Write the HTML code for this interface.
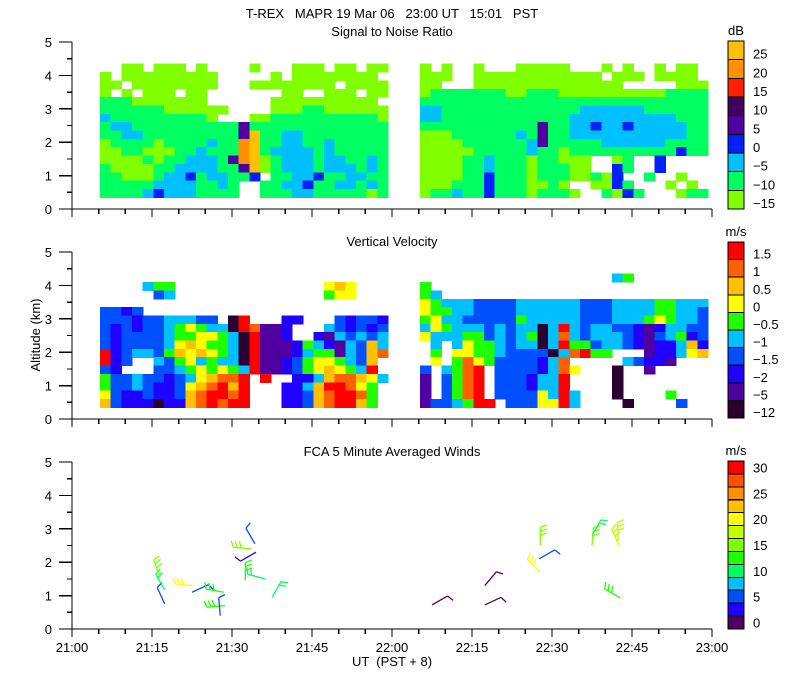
<!DOCTYPE html>
<html><head><meta charset="utf-8"><style>
html,body{margin:0;padding:0;background:#fff;width:800px;height:700px;overflow:hidden}
svg text{font-family:"Liberation Sans",sans-serif;font-size:13px;fill:#000}
</style></head><body>
<svg id="chart" width="800" height="700" viewBox="0 0 800 700" xmlns="http://www.w3.org/2000/svg" shape-rendering="crispEdges">
<text x="392" y="18" text-anchor="middle" font-size="14" xml:space="preserve">T-REX   MAPR 19 Mar 06   23:00 UT   15:01   PST</text>
<text x="392" y="36" text-anchor="middle" font-size="14">Signal to Noise Ratio</text>
<text x="392" y="246" text-anchor="middle" font-size="14">Vertical Velocity</text>
<text x="392" y="456" text-anchor="middle" font-size="14">FCA 5 Minute Averaged Winds</text>
<text x="392" y="666" text-anchor="middle" xml:space="preserve">UT  (PST + 8)</text>
<text x="0" y="0" transform="translate(40,335) rotate(-90)" text-anchor="middle" font-size="12">Altitude (km)</text>
<g id="layer"></g>
</svg>
<script>
// ---- data ----
var segStarts = [5.25, 65.25];   // minutes after 21:00
var colStep = 2;                  // minutes per column
var rowStep = 0.25;               // km per row
var rowBase = 0.35;               // km

var snrColors = ["#80ff00","#00ff60","#00c0ff","#0020ff","#5000a0","#400060","#ff2000","#ff9000","#ffc000"];
var snrLabels = ["-15","-10","-5","0","5","10","15","20","25"];
var velColors = ["#2a0030","#5000a0","#2000ff","#0050ff","#00c0ff","#20ff00","#ffff00","#ffc000","#ff6000","#ff0000"];
var velLabels = ["-12","-5","-2","-1.5","-1","-0.5","0","0.5","1","1.5"];
var windColors = ["#500060","#2000ff","#0050ff","#00c0ff","#00ff60","#20ff00","#80ff00","#c0ff00","#ffff00","#ffc000","#ff9000","#ff5000","#ff0000"];
var windLabels = ["0","5","10","15","20","25","30"];
var xTickLabels = ["21:00","21:15","21:30","21:45","22:00","22:15","22:30","22:45","23:00"];
var yTickLabels = ["0","1","2","3","4","5"];

// SNR rows, top (4.1-4.35 km) to bottom (0.35-0.6 km); left and right segments
var snrLeft = [
"..00.000.0....0...000.00.00",
"0.000000000.....0.00000000.",
"00.00000000...00000000.0000",
"0.0.000.00.......00..000.00",
"1110000000......0000000000.",
"111111000000....00011000000",
"21111111110...0011111111110",
"122111111111141111111111111",
"112211111111148112211111111",
"011110111121178112211211111",
"001100011211178122221211111",
"000010112221478012221221121",
"100001122221148012221222121",
"110001223122113.11223112211",
"1111122221121..112231122121",
"1111232221111..111221111101"];
var snrRight = [
"0.0..0...00000...0.0..0.00.",
"000..000000000000.000.0000",
"00...00000000000000.....000",
"011111110011100000000001111",
"111111111111111111111111111",
"221111111111111222222111111",
"221111111111112222222222111",
"111111111114112232232222211",
"000111111214112222222222211",
"000011111124111112222221111",
"000001111121101111111111311",
"0000112111011000..01..3....",
"0000112111011100..31..3....",
"0000113111011100103..1..0..",
"00011131110010..0031...0.0.",
"011211311101110..1031...011"];
var velLeft = [
"...........................",
"....455..............676...",
".....34..............566...",
"...........................",
"3323.......................",
"33323344433.09...22...32332",
"323233456544098112...432323",
"323333455665409112..2143434",
"323333467655409111254214374",
"923443576765409111245514378",
"923..435645440911235665437",
"32...334565654911235676549",
"53343323467889.9..224788764",
"53343223678979...224799865",
"63223223789989...223789985",
"73222022789899...223789975"];
var velRight = [
"..................45.......",
"5..........................",
"54.........................",
"654443333444444333444455444",
"655443333444444333444455443",
"564433333544444333444565443",
"465444343440494344332124433",
"644455343450484344432134523",
".4.465543440495534432122472",
".5.665543333048955...122467",
".6.58653333248.....43221...",
"3.4589.33332486...0..1.....",
"1.3589.3332449....0........",
"1.3589.3332449....0........",
"1.3589.33336494...0....5...",
"1334599.3336694....0....3.."];

// wind barbs: time (min after 21:00), altitude (km), shaft screen angle (deg), speed (m/s)
var windTimes  = [17.4,17.4,16.5,22.7,22.5,28.5,28.7,27.8,34.3,33.6,34.5,36.2,32.5,37.5,67.5,77.4,77.4,87.8,87.6,87.8,97.5,97.5,102.6,102.4,102.8];
var windAlts   = [0.75,1.17,1.55,1.3,1.1,1.1,0.7,0.4,2.55,2.4,2.3,1.5,1.45,0.95,0.72,0.72,1.3,1.7,2.1,2.5,2.5,2.8,2.5,2.65,0.93];
var windAngles = [115,120,110,175,25,170,185,95,120,175,210,165,90,60,30,25,50,135,30,90,85,60,115,92,150];
var windSpeeds = [6,9,14,19,5,13,13,5,5,14,2,10,13,9,1,1,1,19,5,14,14,10,18,17,13];

// ---- layout ----
var X0=72, X1=712;
var panels=[{name:"snr",y0:209},{name:"velocity",y0:419},{name:"winds",y0:629}];
var pxKm=33.4;
function xS(t){return X0+(X1-X0)*t/120;}
function yS(p,a){return panels[p].y0-a*pxKm;}
var NS="http://www.w3.org/2000/svg";
var layer=document.getElementById("layer");
function mk(tag,attrs,parent){var e=document.createElementNS(NS,tag);for(var k in attrs)e.setAttribute(k,attrs[k]);(parent||layer).appendChild(e);return e;}

function drawHeat(p,rowsL,rowsR,colors,nm){
  var g=mk("g",{});
  
  
  [rowsL,rowsR].forEach(function(rows,s){
    var n=rows.length;
    for(var r=0;r<n;r++){
      var str=rows[r];
      var alt=rowBase+rowStep*(n-1-r);
      for(var c=0;c<27;c++){
        var ch=str.charAt(c);
        if(ch===""||ch==="."||ch===" ")continue;
        var v=parseInt(ch,10); if(isNaN(v)||v>=colors.length)continue;
        var t=segStarts[s]+colStep*c;
        var x=xS(t), w=xS(t+colStep)-x;
        var y=yS(p,alt+rowStep), h=yS(p,alt)-y;
        var rc=mk("rect",{x:x.toFixed(1),y:y.toFixed(1),width:(w+0.6).toFixed(1),height:(h+0.6).toFixed(1),fill:colors[v]},g);
        
        
      }
    }
  });
}
drawHeat(0,snrLeft,snrRight,snrColors,"snr");
drawHeat(1,velLeft,velRight,velColors,"velocity");

// wind barbs
var wg=mk("g",{"shape-rendering":"auto"});


for(var i=0;i<windTimes.length;i++){
  var bx=xS(windTimes[i]), by=yS(2,windAlts[i]);
  var a=windAngles[i]*Math.PI/180, L=18;
  var tx=bx+L*Math.cos(a), ty=by-L*Math.sin(a);
  var ci=Math.min(windColors.length-1,Math.round(windSpeeds[i]/2.5));
  var col=windColors[ci];
  var bg=mk("g",{stroke:col,"stroke-width":1.3,fill:"none"},wg);
  
  
  mk("line",{x1:bx,y1:by,x2:tx,y2:ty},bg);
  var nb=Math.max(1,Math.round(windSpeeds[i]/5));
  for(var k=0;k<Math.min(nb,3);k++){
    var px=bx+(L-k*4)*Math.cos(a), py=by-(L-k*4)*Math.sin(a);
    var b=a-1.2;
    mk("line",{x1:px,y1:py,x2:px+7*Math.cos(b),y2:py-7*Math.sin(b)},bg);
  }
}

// axes
panels.forEach(function(pn,p){
  var ag=mk("g",{stroke:"#000","stroke-width":1.3});
  
  
  mk("line",{x1:X0,y1:yS(p,5),x2:X0,y2:pn.y0},ag);
  mk("line",{x1:X0,y1:pn.y0,x2:X1,y2:pn.y0},ag);
  for(var h=0;h<=10;h++){
    var y=yS(p,h*0.5);
    mk("line",{x1:(h%2===0?X0-13:X0-5),y1:y,x2:X0,y2:y},ag);
  }
  yTickLabels.forEach(function(lb,j){
    var t=mk("text",{x:52,y:yS(p,j)+5,"text-anchor":"end"});
    t.textContent=lb;
    
    
  });
  for(var m=0;m<=24;m++){
    var x=xS(m*5);
    mk("line",{x1:x,y1:pn.y0,x2:x,y2:pn.y0+(m%3===0?8:5)},ag);
  }
});
xTickLabels.forEach(function(lb,j){
  var t=mk("text",{x:xS(j*15),y:652,"text-anchor":"middle"});
  t.textContent=lb;
  
  
});

// colorbars
function colorbar(top,bot,colors,labels,unit,nm,labelFn){
  var g=mk("g",{});
  
  
  var n=colors.length,h=(bot-top)/n;
  for(var i=0;i<n;i++){
    var r=mk("rect",{x:728,y:(bot-(i+1)*h).toFixed(1),width:16,height:h.toFixed(1),fill:colors[i],stroke:"#000","stroke-width":1},g);
    
    
  }
  labels.forEach(function(lb,j){
    var t=mk("text",{x:753,y:labelFn(j,h).toFixed(1)},g);
    t.textContent=lb.replace("-","\u2212");
    
    
  });
  var u=mk("text",{x:736,y:top-6,"text-anchor":"middle"},g);
  u.textContent=unit;
  
  
}
colorbar(41,209,snrColors,snrLabels,"dB","snr",function(j,h){return 209-j*h-1;});
colorbar(242,418,velColors,velLabels,"m/s","velocity",function(j,h){return 418-j*h-1;});
colorbar(461,629,windColors,windLabels,"m/s","winds",function(j,h){return 629-(j*2+0.5)*h+5;});
</script>
</body></html>
